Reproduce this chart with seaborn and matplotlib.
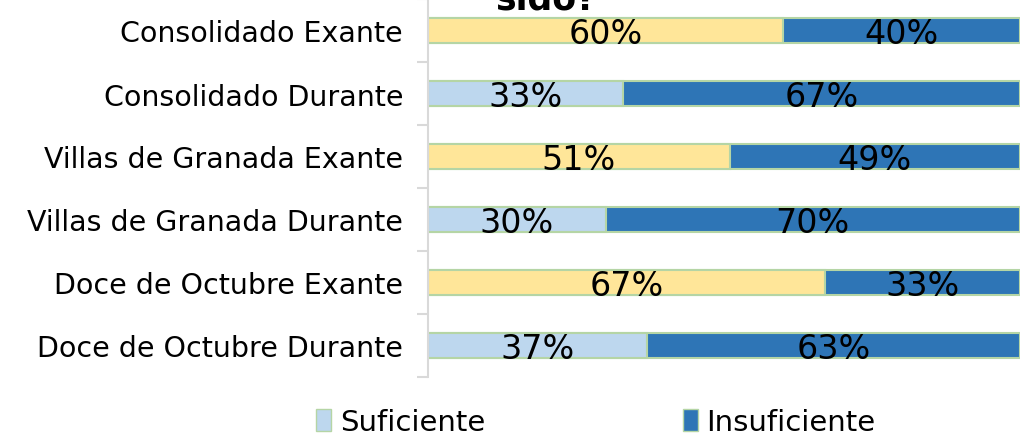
import pandas as pd
import numpy as np
import matplotlib.pyplot as plt
import seaborn as sns
from matplotlib.patches import Patch
from matplotlib.ticker import FixedLocator

# Data
categories = ['Consolidado Exante', 'Consolidado Durante',
              'Villas de Granada Exante', 'Villas de Granada Durante',
              'Doce de Octubre Exante', 'Doce de Octubre Durante']
suficiente = [60, 33, 51, 30, 67, 37]
insuficiente = [40, 67, 49, 70, 33, 63]

yellow = '#FFE699'
light_blue = '#BDD7EE'
dark_blue = '#2E75B6'
edge = '#B5D5A5'

df = pd.DataFrame({'Grupo': categories,
                   'Suficiente': suficiente,
                   'Insuficiente': insuficiente})
df['Total'] = df['Suficiente'] + df['Insuficiente']
first_colors = [yellow if 'Exante' in c else light_blue for c in categories]

sns.set_style('white')
plt.rcParams['font.family'] = ['DejaVu Sans']

fig = plt.figure(figsize=(10.25, 4.39), dpi=100)
ax = fig.add_axes([428 / 1025, 1 - 378 / 439, (1020 - 428) / 1025, 378 / 439])

# full bars (insuficiente part shows on the right)
sns.barplot(data=df, x='Total', y='Grupo', orient='h', color=dark_blue,
            width=0.41, edgecolor=edge, linewidth=1.5, saturation=1, ax=ax)
# suficiente part on top
sns.barplot(data=df, x='Suficiente', y='Grupo', hue='Grupo', orient='h',
            palette=first_colors, width=0.41, edgecolor=edge, linewidth=1.5,
            saturation=1, legend=False, ax=ax)

for i, (s, n) in enumerate(zip(suficiente, insuficiente)):
    ax.text(s / 2, i + 0.04, f'{s}%', ha='center', va='center', fontsize=24, color='black')
    ax.text(s + n / 2, i + 0.04, f'{n}%', ha='center', va='center', fontsize=24, color='black')

ax.set_xlim(0, 100)
ax.set_ylim(len(categories) - 0.5, -0.5)
ax.set_xlabel('')
ax.set_ylabel('')
ax.xaxis.set_visible(False)
for side in ['top', 'right', 'bottom']:
    ax.spines[side].set_visible(False)
ax.spines['left'].set_color('#D9D9D9')
ax.spines['left'].set_linewidth(1.5)
ax.tick_params(axis='y', which='major', length=0, pad=18, labelsize=20.5,
               labelcolor='black')
ax.yaxis.set_minor_locator(FixedLocator(np.arange(-0.5, len(categories) + 0.5, 1)))
ax.tick_params(axis='y', which='minor', length=8, width=1.5, color='#D9D9D9', left=True)

# title is cut off at the top edge in the reference
fig.text(546 / 1025, 1 - 9 / 439, 'sido?', ha='center', va='baseline',
         fontsize=25, fontweight='bold', color='black')

handles = [Patch(facecolor=light_blue, edgecolor=edge, label='Suficiente'),
           Patch(facecolor=dark_blue, edgecolor=edge, label='Insuficiente')]
fig.legend(handles=handles, loc='center', bbox_to_anchor=(596 / 1025, 1 - 423 / 439),
           ncol=2, frameon=False, fontsize=21, handlelength=0.5, handleheight=0.8,
           handletextpad=0.3, columnspacing=6.8, labelcolor='black')

fig.savefig('out.png', dpi=100)
